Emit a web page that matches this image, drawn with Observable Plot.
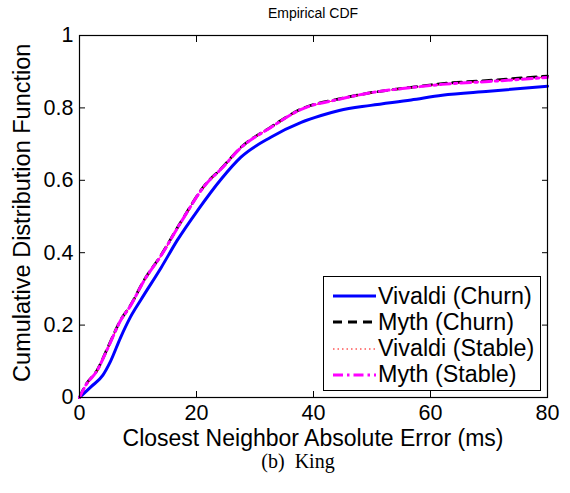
<!DOCTYPE html>
<html><head><meta charset="utf-8">
<script src="https://cdn.jsdelivr.net/npm/d3@7"></script>
<script src="https://cdn.jsdelivr.net/npm/@observablehq/plot@0.6"></script>
<style>
body{margin:0;background:#fff;}
#wrap{position:relative;width:570px;height:493px;font-family:"Liberation Sans",Arial,Helvetica,sans-serif;color:#000;overflow:hidden;}
#wrap svg{position:absolute;left:0;top:0;}
.lbl{position:absolute;white-space:pre;text-align:center;line-height:1;}
#legend{position:absolute;left:323px;top:276px;width:218px;height:115px;border:1.3px solid #000;background:#fff;box-sizing:border-box;}
.row{position:absolute;left:0;height:26px;display:flex;align-items:center;font-size:23.3px;}
.row svg{position:static !important;margin-left:9px;margin-right:2px;}
</style>
</head><body>
<div id="wrap"></div>
<script>
const title = "Empirical CDF";
const xLabel = "Closest Neighbor Absolute Error (ms)";
const yLabel = "Cumulative Distribution Function";
const caption = "(b)  King";
const xTicks = [0, 20, 40, 60, 80];
const yTicks = [0, 0.2, 0.4, 0.6, 0.8, 1];

const seriesNames = ["Vivaldi (Churn)", "Myth (Churn)", "Vivaldi (Stable)", "Myth (Stable)"];
const seriesColors = ["#0000ff", "#000000", "#ff0000", "#ff00ff"];

const vivaldiChurnX = [0,2,4,5.3,7,8.7,10.5,14,16.7,20.2,24.2,27.6,32.7,37.9,41.3,44.4,49.8,56.7,62,70,80];
const vivaldiChurnY = [0,0.03,0.062,0.10,0.165,0.222,0.27,0.36,0.434,0.517,0.603,0.664,0.719,0.76,0.779,0.793,0.807,0.822,0.835,0.846,0.86];
const mythChurnX = [0,1,3,5,7,8.7,11,13.9,17.3,21.6,24.2,27.6,32.7,37.9,44.4,49.8,56.7,62,70,80];
const mythChurnY = [0,0.033,0.075,0.144,0.213,0.254,0.323,0.392,0.484,0.59,0.632,0.691,0.747,0.797,0.825,0.842,0.857,0.867,0.876,0.888];
const vivaldiStableX = [0,1,3,5,7,8.7,11,13.9,17.3,21.6,24.2,27.6,32.7,37.9,44.4,49.8,56.7,62,70,80];
const vivaldiStableY = [0,0.03,0.072,0.14,0.21,0.252,0.32,0.39,0.482,0.588,0.63,0.69,0.746,0.795,0.823,0.841,0.856,0.865,0.874,0.885];
const mythStableX = [0,1,3,5,7,8.7,11,13.9,17.3,21.6,24.2,27.6,32.7,37.9,44.4,49.8,56.7,62,70,80];
const mythStableY = [0,0.032,0.074,0.142,0.212,0.253,0.322,0.391,0.483,0.589,0.631,0.69,0.746,0.796,0.824,0.842,0.856,0.865,0.873,0.884];

const toRows = (xs, ys) => xs.map((x, i) => ({x, y: ys[i]}));
const styles = [
  {stroke: seriesColors[0], strokeWidth: 3},
  {stroke: seriesColors[1], strokeWidth: 2.8, strokeDasharray: "9,6"},
  {stroke: seriesColors[2], strokeWidth: 1, strokeDasharray: "1.5,3"},
  {stroke: seriesColors[3], strokeWidth: 3, strokeDasharray: "10,4,2.5,4"}
];
const data = [
  toRows(vivaldiChurnX, vivaldiChurnY),
  toRows(mythChurnX, mythChurnY),
  toRows(vivaldiStableX, vivaldiStableY),
  toRows(mythStableX, mythStableY)
];

const chart = Plot.plot({
  width: 570, height: 493,
  marginLeft: 79, marginRight: 23, marginTop: 35, marginBottom: 96,
  style: {fontFamily: "'Liberation Sans', Arial, sans-serif", fontSize: "21px", color: "#000", background: "transparent"},
  x: {domain: [0, 80]},
  y: {domain: [0, 1]},
  marks: [
    ...data.map((d, i) => Plot.line(d, {x: "x", y: "y", curve: "monotone-x", ...styles[i]})),
    Plot.frame({stroke: "#000", strokeWidth: 1.2}),
    Plot.axisX(xTicks, {anchor: "bottom", tickSize: 0, tickPadding: 7, label: null, fontSize: 21.5}),
    Plot.axisX(xTicks, {anchor: "bottom", tickSize: -6, tickFormat: () => "", label: null}),
    Plot.axisX(xTicks, {anchor: "top", tickSize: -6, tickFormat: () => "", label: null}),
    Plot.axisY(yTicks, {anchor: "left", tickSize: 0, tickPadding: 6, label: null, fontSize: 21.5, tickFormat: d => String(d)}),
    Plot.axisY(yTicks, {anchor: "left", tickSize: -6, tickFormat: () => "", label: null}),
    Plot.axisY(yTicks, {anchor: "right", tickSize: -6, tickFormat: () => "", label: null})
  ]
});

const wrap = document.getElementById("wrap");
wrap.appendChild(chart);

function addLabel(text, css) {
  const d = document.createElement("div");
  d.className = "lbl";
  d.textContent = text;
  Object.assign(d.style, css);
  wrap.appendChild(d);
  return d;
}
addLabel(title, {left: "213px", width: "200px", top: "6px", fontSize: "14px"});
addLabel(xLabel, {left: "63px", width: "500px", top: "427px", fontSize: "23px"});
addLabel(caption, {left: "198px", width: "200px", top: "451px", fontSize: "20px", fontFamily: "'Liberation Serif', 'Times New Roman', serif"});
addLabel(yLabel, {left: "-227px", width: "500px", top: "201px", fontSize: "23.5px", transform: "rotate(-90deg)", transformOrigin: "center center"});

const legend = document.createElement("div");
legend.id = "legend";
seriesNames.forEach((name, i) => {
  const row = document.createElement("div");
  row.className = "row";
  row.style.top = (6 + i * 26.3) + "px";
  const s = styles[i];
  row.innerHTML = `<svg width="43" height="10"><line x1="0" x2="43" y1="5" y2="5" stroke="${s.stroke}" stroke-width="${s.strokeWidth}" ${s.strokeDasharray ? `stroke-dasharray="${s.strokeDasharray}"` : ""}/></svg><span>${name}</span>`;
  legend.appendChild(row);
});
wrap.appendChild(legend);
</script>
</body></html>
